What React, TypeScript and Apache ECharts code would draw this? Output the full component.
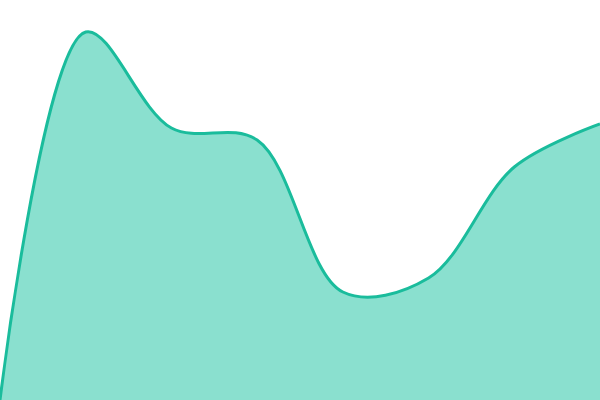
import * as echarts from "echarts";
import React, { useEffect, useRef } from "react";

// categories along x (evenly spaced, no boundary gap)
const categories = ["1", "2", "3", "4", "5", "6", "7", "8"];
// series values (0 = bottom, 100 = top)
const values = [0, 92, 68, 65, 27, 30.5, 58.25, 69];

// centripetal Catmull-Rom through the points, as cubic Bezier path data
function catmullRomPath(pts: number[][], alpha = 0.5) {
  const n = pts.length;
  const dist = (p: number[], q: number[]) =>
    Math.pow((p[0] - q[0]) ** 2 + (p[1] - q[1]) ** 2, alpha / 2);
  let d = `M${pts[0][0]},${pts[0][1]}`;
  for (let i = 0; i < n - 1; i++) {
    const p0 = pts[Math.max(i - 1, 0)];
    const p1 = pts[i];
    const p2 = pts[i + 1];
    const p3 = pts[Math.min(i + 2, n - 1)];
    const d01 = dist(p0, p1);
    const d12 = dist(p1, p2);
    const d23 = dist(p2, p3);
    let c1 = p1;
    let c2 = p2;
    if (d01 > 1e-12) {
      const a = 2 * d01 * d01 + 3 * d01 * d12 + d12 * d12;
      const m = 3 * d01 * (d01 + d12);
      c1 = [0, 1].map((k) => (p1[k] * a - p0[k] * d12 * d12 + p2[k] * d01 * d01) / m);
    }
    if (d23 > 1e-12) {
      const b = 2 * d23 * d23 + 3 * d23 * d12 + d12 * d12;
      const m = 3 * d23 * (d23 + d12);
      c2 = [0, 1].map((k) => (p2[k] * b + p1[k] * d23 * d23 - p3[k] * d12 * d12) / m);
    }
    d += `C${c1[0]},${c1[1]},${c2[0]},${c2[1]},${p2[0]},${p2[1]}`;
  }
  return d;
}

export default function App() {
  const chartRef = useRef<HTMLDivElement>(null);

  useEffect(() => {
    if (!chartRef.current) return;
    const chart = echarts.init(chartRef.current, null, { renderer: "svg" });
    chart.setOption({
      animation: false,
      grid: { left: 0, right: 0, top: 0, bottom: 0 },
      xAxis: {
        type: "category",
        data: categories,
        boundaryGap: false,
        show: false,
      },
      yAxis: { type: "value", min: 0, max: 100, show: false },
      series: [
        {
          type: "custom",
          data: values.map((v, i) => [i, v]),
          renderItem: (params: any, api: any) => {
            if (params.dataIndex !== 0) return null;
            const pts = values.map((v, i) => api.coord([i, v]));
            const base = api.coord([0, 0])[1];
            const line = catmullRomPath(pts);
            const last = pts[pts.length - 1];
            const area = `${line}L${last[0]},${base}L${pts[0][0]},${base}Z`;
            return {
              type: "group",
              children: [
                {
                  type: "path",
                  shape: { pathData: area },
                  style: { fill: "#8ae0cf" },
                },
                {
                  type: "path",
                  shape: { pathData: line },
                  style: {
                    fill: "none",
                    stroke: "#1abc9c",
                    lineWidth: 3,
                    lineJoin: "round",
                  },
                },
              ],
            };
          },
        },
      ],
    });
    return () => chart.dispose();
  }, []);

  return (
    <div
      ref={chartRef}
      style={{ position: "fixed", left: 0, top: 0, width: 600, height: 400 }}
    />
  );
}
